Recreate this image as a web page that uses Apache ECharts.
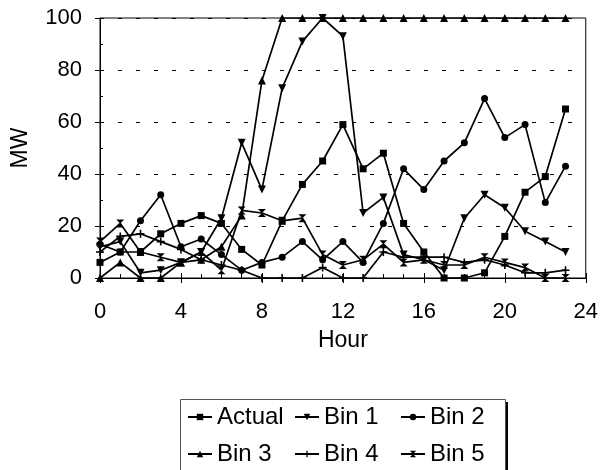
<!DOCTYPE html>
<html>
<head>
<meta charset="utf-8">
<script src="https://cdn.jsdelivr.net/npm/echarts@6/dist/echarts.min.js"></script>
<style>
  html, body { margin: 0; padding: 0; background: #fff; }
  #chart { width: 601px; height: 470px; }
</style>
</head>
<body>
<div id="chart"></div>
<script>
// Hourly output (MW): actual vs. the five forecast bins
const hours  = [0, 1, 2, 3, 4, 5, 6, 7, 8, 9, 10, 11, 12, 13, 14, 15, 16, 17, 18, 19, 20, 21, 22, 23];
const actual = [6, 10, 10, 17, 21, 24, 21, 11, 5, 22, 36, 45, 59, 42, 48, 21, 10, 0, 0, 2, 16, 33, 39, 65];
const bin1   = [12, 14, 2, 3, 6, 10, 23, 52, 34, 73, 91, 100, 93, 25, 31, 9, 7, 3, 23, 32, 27, 18, 14, 10];
const bin2   = [13, 10, 22, 32, 12, 15, 9, 3, 6, 8, 14, 7, 14, 6, 21, 42, 34, 45, 52, 69, 54, 59, 29, 43];
const bin3   = [0, 6, 0, 0, 6, 7, 12, 24, 76, 100, 100, 100, 100, 100, 100, 100, 100, 100, 100, 100, 100, 100, 100, 100];
const bin4   = [10, 16, 17, 14, 11, 7, 5, 3, 0, 0, 0, 4, 0, 0, 10, 8, 8, 8, 6, 7, 5, 2, 2, 3];
const bin5   = [14, 21, 10, 8, 6, 10, 3, 26, 25, 22, 23, 9, 5, 7, 13, 6, 7, 5, 5, 8, 6, 4, 0, 0];

const seriesNames = ['Actual', 'Bin 1', 'Bin 2', 'Bin 3', 'Bin 4', 'Bin 5'];
const seriesValues = [actual, bin1, bin2, bin3, bin4, bin5];

const FONT = '"Liberation Sans", Arial, Helvetica, sans-serif';
const PLUS = 'path://M4,0 H6 V4 H10 V6 H6 V10 H4 V6 H0 V4 H4 Z';
const HOURGLASS = 'path://M0,0 H10 L5,5 Z M5,5 L10,10 H0 Z';

const markers = [
  { symbol: 'rect', size: 7, rotate: 0 },
  { symbol: 'triangle', size: 8, rotate: 180 },
  { symbol: 'circle', size: 7, rotate: 0 },
  { symbol: 'triangle', size: 8, rotate: 0 },
  { symbol: PLUS, size: 8, rotate: 0 },
  { symbol: HOURGLASS, size: 8, rotate: 0 }
];

const series = seriesNames.map((name, i) => ({
  name: name,
  type: 'line',
  xAxisIndex: 0,
  yAxisIndex: 0,
  data: hours.map((h, k) => [h, seriesValues[i][k]]),
  symbol: markers[i].symbol,
  symbolSize: markers[i].size,
  symbolRotate: markers[i].rotate,
  showAllSymbol: true,
  lineStyle: { color: '#000', width: 1.7 },
  itemStyle: { color: '#000', borderWidth: 0 },
  emphasis: { disabled: true },
  animation: false
}));

const tickStyle = { color: '#000', width: 1 };
const labelStyle = { color: '#000', fontSize: 22, fontFamily: FONT };
const nameStyle = { color: '#000', fontSize: 23, fontFamily: FONT };

function legendColumn(names, left) {
  return {
    data: names,
    orient: 'vertical',
    left: left,
    top: 405,
    padding: 0,
    itemGap: 13,
    itemWidth: 24,
    itemHeight: 8,
    selectedMode: false,
    textStyle: { color: '#000', fontSize: 24, lineHeight: 24, fontFamily: FONT }
  };
}

const chart = echarts.init(document.getElementById('chart'), null, { renderer: 'canvas' });
chart.setOption({
  animation: false,
  backgroundColor: '#fff',
  grid: {
    left: 100, right: 12, top: 18, bottom: 192,
    show: true, borderColor: '#000', borderWidth: 1, backgroundColor: 'transparent'
  },
  xAxis: [
    {
      type: 'value', min: 0, max: 24, interval: 4,
      name: 'Hour', nameLocation: 'middle', nameGap: 51,
      nameTextStyle: nameStyle,
      axisLine: { show: true, onZero: false, lineStyle: { color: '#000', width: 1 } },
      axisTick: { show: true, inside: false, length: 5, lineStyle: tickStyle },
      minorTick: { show: false },
      axisLabel: Object.assign({ margin: 23 }, labelStyle),
      splitLine: { show: false }
    },
    {
      type: 'value', min: 0, max: 24, interval: 4, position: 'bottom',
      axisLine: { show: false, onZero: false },
      axisTick: { show: true, inside: true, length: 5, lineStyle: tickStyle },
      minorTick: { show: true, splitNumber: 4, length: 4, lineStyle: tickStyle },
      axisLabel: { show: false },
      splitLine: { show: false }
    }
  ],
  yAxis: [
    {
      type: 'value', min: 0, max: 100, interval: 20,
      name: 'MW', nameLocation: 'middle', nameGap: 68, nameRotate: 90,
      nameTextStyle: nameStyle,
      axisLine: { show: true, onZero: false, lineStyle: { color: '#000', width: 1 } },
      axisTick: { show: true, inside: false, length: 5, lineStyle: tickStyle },
      minorTick: { show: false },
      axisLabel: Object.assign({ margin: 18 }, labelStyle),
      splitLine: { show: true, lineStyle: { color: '#000', width: 1, type: [4, 14] } }
    },
    {
      type: 'value', min: 0, max: 100, interval: 20, position: 'left',
      axisLine: { show: false, onZero: false },
      axisTick: { show: true, inside: true, length: 4, lineStyle: tickStyle },
      minorTick: { show: true, splitNumber: 2, length: 3, lineStyle: tickStyle },
      axisLabel: { show: false },
      splitLine: { show: false }
    }
  ],
  legend: [
    legendColumn(['Actual', 'Bin 3'], 187),
    legendColumn(['Bin 1', 'Bin 4'], 294),
    legendColumn(['Bin 2', 'Bin 5'], 400)
  ],
  graphic: [
    { type: 'rect', z: 0, shape: { x: 183, y: 402, width: 325, height: 72 }, style: { fill: '#000' } },
    { type: 'rect', z: 1, shape: { x: 180.5, y: 399.5, width: 325, height: 72 }, style: { fill: '#fff', stroke: '#555', lineWidth: 1 } }
  ],
  series: series
});
</script>
</body>
</html>
